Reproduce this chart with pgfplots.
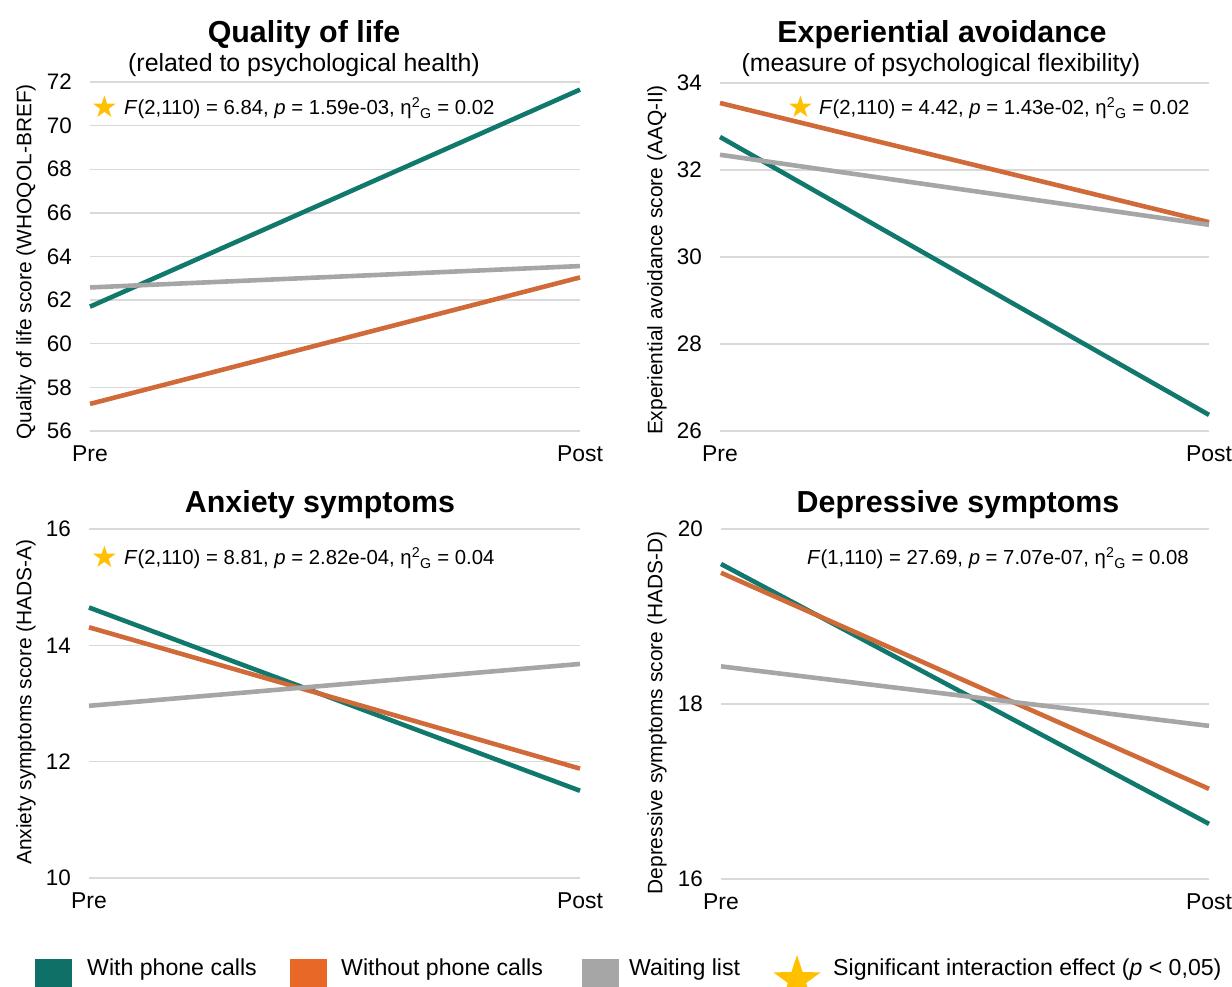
\documentclass[border=0pt]{standalone}
\usepackage{fontspec}
\setmainfont{Liberation Sans}
\newfontfamily\symfont{DejaVu Sans}
\usepackage{pgfplots}
\pgfplotsset{compat=1.18}
\usetikzlibrary{shapes.geometric}
\definecolor{tealc}{RGB}{16,120,108}
\definecolor{orangec}{RGB}{208,106,56}
\definecolor{grayc}{RGB}{166,166,166}
\definecolor{tealL}{RGB}{15,112,104}
\definecolor{orangeL}{RGB}{232,104,40}
\definecolor{grayL}{RGB}{166,166,166}
\definecolor{starc}{RGB}{255,192,0}
\definecolor{gridc}{RGB}{217,217,217}
\newcommand{\fs}[1]{\fontsize{#1}{#1}\selectfont}
\pgfplotsset{
  panel/.style={
    scale only axis, anchor=south west,
    xmin=0, xmax=1, xtick={0,1}, xticklabels={Pre,Post},
    axis line style={draw=none}, major tick length=0pt,
    ymajorgrids, grid style={gridc, line width=1.3bp},
    clip=false,
    /pgf/number format/assume math mode=true,
    yticklabel style={font=\fs{22.5}, inner sep=0pt, anchor=east, xshift=-18bp},
    xticklabel style={font=\fs{23}, inner sep=0pt, anchor=north, yshift=-15bp},
    every axis plot/.append style={line width=4.6bp, no marks},
  }
}
\pgfplotstableread{
x teal orange gray
0 61.70 57.24 62.58
1 71.65 63.04 63.56
}\qol
\pgfplotstableread{
x teal orange gray
0 32.76 33.54 32.35
1 26.37 30.80 30.74
}\eav
\pgfplotstableread{
x teal orange gray
0 14.65 14.31 12.96
1 11.50 11.88 13.68
}\anx
\pgfplotstableread{
x teal orange gray
0 19.60 19.50 18.43
1 16.63 17.03 17.75
}\dep
\begin{document}
\begin{tikzpicture}[x=1bp,y=1bp]
\useasboundingbox (0,0) rectangle (1232,987);
\clip (0,0) rectangle (1232,987);
% Panel 1
\begin{axis}[panel, at={(90bp,556bp)}, width=490bp, height=349bp,
  ymin=56, ymax=72, ytick={56,58,...,72}]
\addplot[tealc] table[x=x,y=teal]{\qol};
\addplot[orangec] table[x=x,y=orange]{\qol};
\addplot[grayc] table[x=x,y=gray]{\qol};
\end{axis}
% Panel 2
\begin{axis}[panel, at={(720bp,556bp)}, width=489bp, height=348bp,
  ymin=26, ymax=34, ytick={26,28,...,34}]
\addplot[tealc] table[x=x,y=teal]{\eav};
\addplot[orangec] table[x=x,y=orange]{\eav};
\addplot[grayc] table[x=x,y=gray]{\eav};
\end{axis}
% Panel 3
\begin{axis}[panel, at={(89bp,109bp)}, width=491bp, height=349bp,
  ymin=10, ymax=16, ytick={10,12,14,16}]
\addplot[tealc] table[x=x,y=teal]{\anx};
\addplot[orangec] table[x=x,y=orange]{\anx};
\addplot[grayc] table[x=x,y=gray]{\anx};
\end{axis}
% Panel 4
\begin{axis}[panel, at={(721bp,108bp)}, width=488bp, height=350bp,
  ymin=16, ymax=20, ytick={16,18,20}]
\addplot[tealc] table[x=x,y=teal]{\dep};
\addplot[orangec] table[x=x,y=orange]{\dep};
\addplot[grayc] table[x=x,y=gray]{\dep};
\end{axis}
% Titles
\node[font=\bfseries\fs{30.5}, anchor=base] at (304,944) {Quality of life};
\node[font=\fs{25}, anchor=base] at (304,915) {(related to psychological health)};
\node[font=\bfseries\fs{30.5}, anchor=base] at (942,944) {Experiential avoidance};
\node[font=\fs{25}, anchor=base] at (941,915) {(measure of psychological flexibility)};
\node[font=\bfseries\fs{30.5}, anchor=base] at (320,474) {Anxiety symptoms};
\node[font=\bfseries\fs{30.5}, anchor=base] at (958,474) {Depressive symptoms};
% Y labels
\node[font=\fs{21}, rotate=90, anchor=center] at (26,725) {Quality of life score (WHOQOL-BREF)};
\node[font=\fs{21}, rotate=90, anchor=center] at (657,727) {Experiential avoidance score (AAQ-II)};
\node[font=\fs{21}, rotate=90, anchor=center] at (26,285) {Anxiety symptoms score (HADS-A)};
\node[font=\fs{21}, rotate=90, anchor=center] at (657,274) {Depressive symptoms score (HADS-D)};
% Annotations
\node[font=\symfont\fs{30}, text=starc, inner sep=0pt, anchor=center] at (105,880) {★};
\node[font=\fs{20.4}, inner sep=0pt, anchor=base west] at (124,872) {\textit{F}(2,110) = 6.84, \textit{p} = 1.59e-03, η\textsuperscript{2}\textsubscript{G} = 0.02};
\node[font=\symfont\fs{30}, text=starc, inner sep=0pt, anchor=center] at (801,880) {★};
\node[font=\fs{20.4}, inner sep=0pt, anchor=base west] at (819,872) {\textit{F}(2,110) = 4.42, \textit{p} = 1.43e-02, η\textsuperscript{2}\textsubscript{G} = 0.02};
\node[font=\symfont\fs{30}, text=starc, inner sep=0pt, anchor=center] at (105,430) {★};
\node[font=\fs{20.4}, inner sep=0pt, anchor=base west] at (124,422) {\textit{F}(2,110) = 8.81, \textit{p} = 2.82e-04, η\textsuperscript{2}\textsubscript{G} = 0.04};
\node[font=\fs{20.4}, inner sep=0pt, anchor=base west] at (807,422) {\textit{F}(1,110) = 27.69, \textit{p} = 7.07e-07, η\textsuperscript{2}\textsubscript{G} = 0.08};
% Legend
\fill[tealL] (35,-12) rectangle (72,28);
\node[font=\fs{23.2}, inner sep=0pt, anchor=base west] at (87,11) {With phone calls};
\fill[orangeL] (290,-12) rectangle (327,28);
\node[font=\fs{23.2}, inner sep=0pt, anchor=base west] at (341,11) {Without phone calls};
\fill[grayL] (582,-12) rectangle (619,28);
\node[font=\fs{23.2}, inner sep=0pt, anchor=base west] at (629,11) {Waiting list};
\node[star, star points=5, star point ratio=2.6, fill=starc, draw=none, minimum size=50bp, inner sep=0pt, anchor=center] at (797,7) {};
\node[font=\fs{23.2}, inner sep=0pt, anchor=base west] at (833,11) {Significant interaction effect (\textit{p} < 0,05)};
\end{tikzpicture}
\end{document}
